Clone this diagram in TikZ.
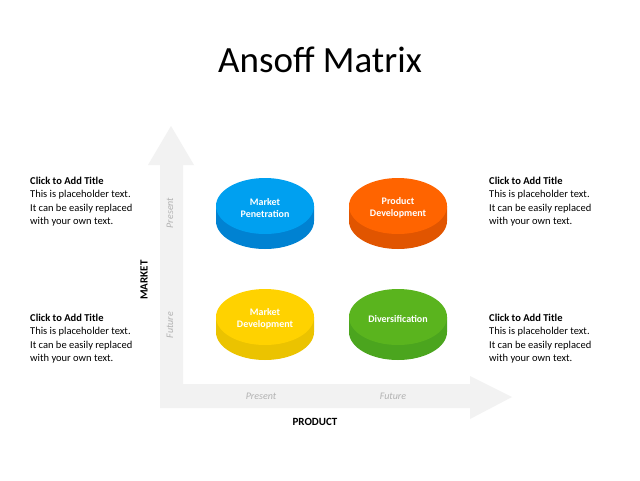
\documentclass[tikz,border=0pt]{standalone}
\usepackage{fontspec}
\setmainfont{Carlito}
\begin{document}
\begin{tikzpicture}[x=1pt,y=-1pt,
  desc/.style={anchor=north west,align=left,font=\fontsize{10.5}{13.3}\selectfont,inner sep=0pt},
  axl/.style={text=gray!60,font=\fontsize{10}{11}\selectfont\itshape},
  disclabel/.style={text=white,font=\fontsize{10}{12}\selectfont\bfseries,align=center}]
\useasboundingbox (0,0) rectangle (640,480);
\fill[white] (0,0) rectangle (640,480);
\node (title) at (320,60) {\fontsize{37}{42}\selectfont Ansoff Matrix};
% L arrow
\fill[gray!10] (160,408) -- (160,165) -- (148,165) -- (171,126) -- (194,165) -- (183,165)
  -- (183,384) -- (470,384) -- (470,376) -- (512,397) -- (470,419) -- (470,408) -- cycle;
\node[axl,rotate=90] (p1) at (170,213) {Present};
\node[axl,rotate=90] (f1) at (170,325) {Future};
\node[axl] (p2) at (261,396) {Present};
\node[axl] (f2) at (393,396) {Future};
\node[font=\fontsize{11}{12}\selectfont\bfseries,rotate=90] (mk) at (144,280) {MARKET};
\node[font=\fontsize{11}{12}\selectfont\bfseries] (pr) at (315,422) {PRODUCT};
% discs
\foreach \n/\cx/\cy/\c/\d/\t in {a/265/206/{0,160,240}/{0,130,210}/{Market\\Penetration},
  b/398/206/{255,100,0}/{225,85,0}/{Product\\Development},
  c/265/317/{255,210,0}/{235,195,0}/{Market\\Development},
  d/398/317/{90,180,30}/{75,165,30}/{Diversification}}{
  \definecolor{top\n}{RGB}{\c}\definecolor{side\n}{RGB}{\d}
  \fill[side\n] (\cx-49,\cy) -- (\cx-49,\cy+15) arc[start angle=180,end angle=0,x radius=49,y radius=28] -- (\cx+49,\cy) -- cycle;
  \fill[top\n] (\cx,\cy) ellipse[x radius=49,y radius=28];
  \node[disclabel] (\n) at (\cx,\cy+2) {\t};
}
\node[desc] (t1) at (30,177) {\textbf{Click to Add Title}\\This is placeholder text.\\It can be easily replaced\\with your own text.};
\node[desc] (t2) at (30,314) {\textbf{Click to Add Title}\\This is placeholder text.\\It can be easily replaced\\with your own text.};
\node[desc] (t3) at (489,177) {\textbf{Click to Add Title}\\This is placeholder text.\\It can be easily replaced\\with your own text.};
\node[desc] (t4) at (489,314) {\textbf{Click to Add Title}\\This is placeholder text.\\It can be easily replaced\\with your own text.};
\end{tikzpicture}
\end{document}
